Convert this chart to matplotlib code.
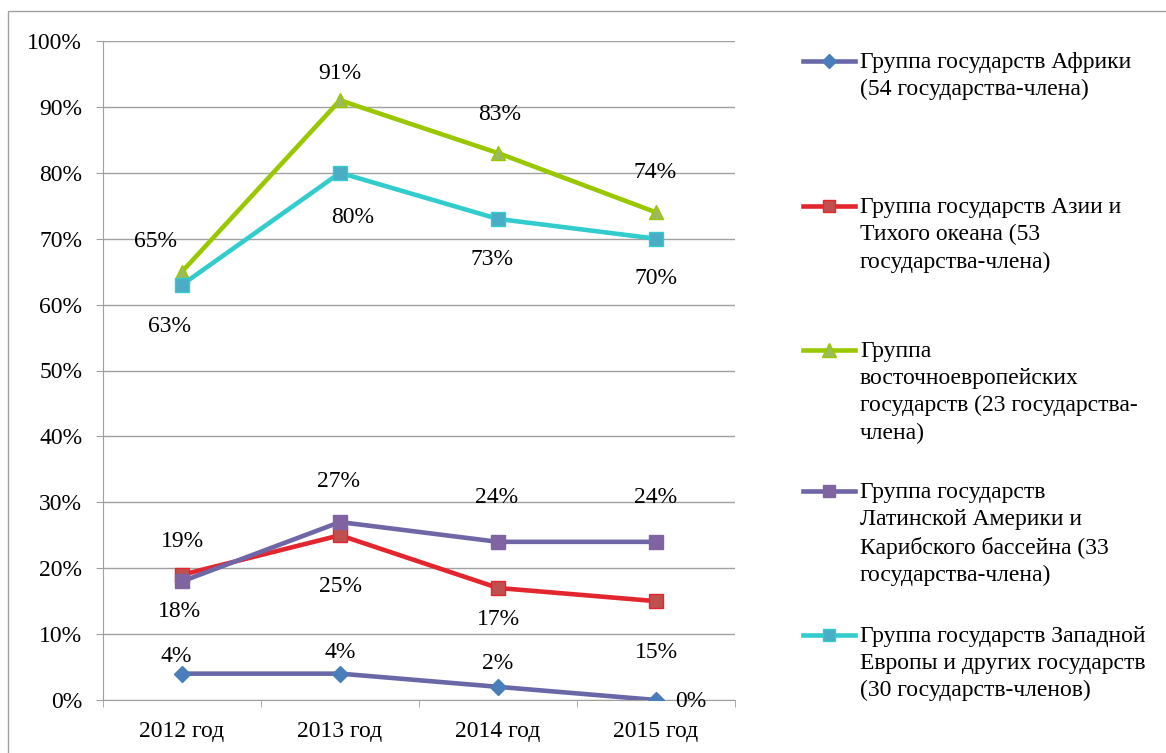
import numpy as np
import matplotlib.pyplot as plt
from matplotlib.lines import Line2D
from matplotlib.patches import Rectangle

plt.rcParams['font.family'] = ['Liberation Serif', 'DejaVu Serif']

years = ['2012 год', '2013 год', '2014 год', '2015 год']
africa = [4, 4, 2, 0]
asia = [19, 25, 17, 15]
east_europe = [65, 91, 83, 74]
latin_america = [18, 27, 24, 24]
west_europe = [63, 80, 73, 70]

names = [
    'Группа государств Африки\n(54 государства-члена)',
    'Группа государств Азии и\nТихого океана (53\nгосударства-члена)',
    'Группа\nвосточноевропейских\nгосударств (23 государства-\nчлена)',
    'Группа государств\nЛатинской Америки и\nКарибского бассейна (33\nгосударства-члена)',
    'Группа государств Западной\nЕвропы и других государств\n(30 государств-членов)',
]
series = [africa, asia, east_europe, latin_america, west_europe]

# style per series: line colour, marker, marker face, marker edge, size
styles = [
    ('#6868A8', 'D', '#4A7EBB', '#4A7EBB', 8),
    ('#E3262E', 's', '#C0504D', '#E3262E', 10),
    ('#99C800', '^', '#9BBB59', '#99C800', 10.5),
    ('#6E66A6', 's', '#8064A2', '#8064A2', 10),
    ('#33CCCC', 's', '#4BACC6', '#33CCCC', 10),
]

# label offsets in points (dx, dy) for each point
offsets = [
    [(-4, 12), (0, 15), (0, 17), (25, -1)],
    [(0, 24), (0, -37), (0, -23), (0, -37)],
    [(-19, 22), (0, 19), (1, 28), (-1, 29)],
    [(-2, -22), (-1, 29), (-1, 32), (0, 32)],
    [(-9, -30), (9, -32), (-4, -29), (0, -29)],
]

FS = 17

fig = plt.figure(figsize=(11.66, 7.53), dpi=100)
ax = fig.add_axes([103 / 1166, 1 - 700 / 753, 632 / 1166, 659 / 753])

x = np.arange(len(years))
for vals, (lc, mk, mf, me, ms), offs in zip(series, styles, offsets):
    ax.plot(x, vals, color=lc, lw=3.3, marker=mk, markersize=ms,
            markerfacecolor=mf, markeredgecolor=me, markeredgewidth=1, zorder=3)
    for xi, v, (dx, dy) in zip(x, vals, offs):
        ax.annotate(f'{v}%', (xi, v), xytext=(dx, dy), textcoords='offset points',
                    ha='center', va='center', fontsize=FS, color='black')

ax.set_xlim(-0.5, 3.5)
ax.set_ylim(0, 100)
ax.set_yticks(np.arange(0, 101, 10))
ax.set_yticklabels([f'{v}%' for v in range(0, 101, 10)], fontsize=FS)
ax.set_xticks(x)
ax.set_xticklabels(years, fontsize=FS)
ax.set_xticks(np.arange(-0.5, 3.6, 1), minor=True)
ax.tick_params(axis='x', which='major', length=0, pad=15)
ax.tick_params(axis='x', which='minor', length=5, color='#A0A0A0', direction='out')
ax.tick_params(axis='y', length=5, color='#A0A0A0', pad=10)
ax.grid(axis='y', color='#A0A0A0', lw=1)
ax.set_axisbelow(True)
for s in ['top', 'right']:
    ax.spines[s].set_visible(False)
for s in ['left', 'bottom']:
    ax.spines[s].set_color('#A0A0A0')

# legend drawn by hand so that handles line up with first line of text
W, H = 1166, 753
leg_y = [61, 206, 350, 491, 635]
for name, (lc, mk, mf, me, ms), y in zip(names, styles, leg_y):
    fy = 1 - y / H
    fig.add_artist(Line2D([803 / W, 855 / W], [fy, fy], color=lc, lw=3.3,
                          transform=fig.transFigure))
    fig.add_artist(Line2D([829 / W], [fy], marker=mk, markersize=ms * 0.9,
                          markerfacecolor=mf, markeredgecolor=me,
                          transform=fig.transFigure))
    fig.text(860 / W, 1 - (y - 9) / H, name, fontsize=FS, va='top', ha='left',
             linespacing=1.38)

fig.add_artist(Rectangle((8 / W, -0.05), 1.1, 1 - 11 / H + 0.05, fill=False,
                         edgecolor='#A0A0A0', lw=1, transform=fig.transFigure))

fig.savefig('out.png', dpi=100)
